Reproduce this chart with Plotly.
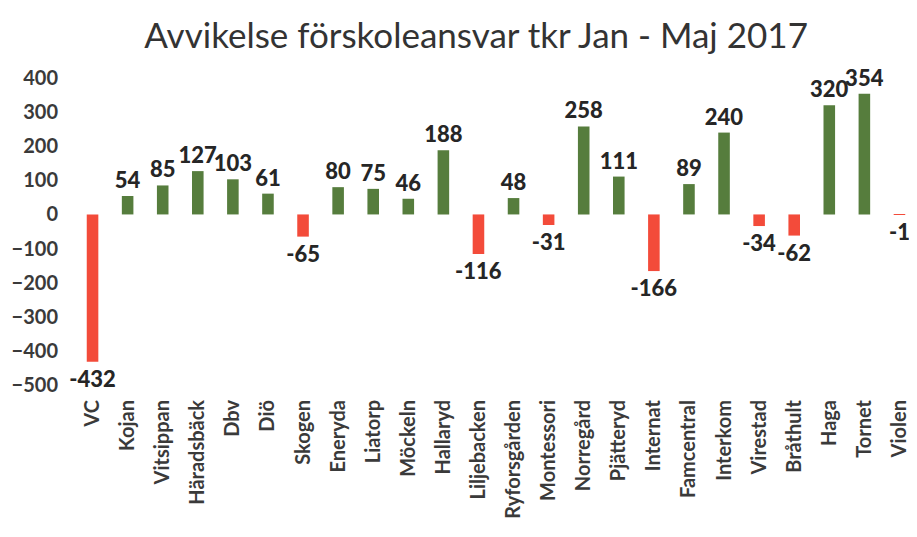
import plotly.graph_objects as go

categories = ["VC", "Kojan", "Vitsippan", "Häradsbäck", "Dbv", "Diö", "Skogen", "Eneryda",
              "Liatorp", "Möckeln", "Hallaryd", "Liljebacken", "Ryforsgården", "Montessori",
              "Norregård", "Pjätteryd", "Internat", "Famcentral", "Interkom", "Virestad",
              "Bråthult", "Haga", "Tornet", "Violen"]
values = [-432, 54, 85, 127, 103, 61, -65, 80, 75, 46, 188, -116, 48, -31,
          258, 111, -166, 89, 240, -34, -62, 320, 354, -1]
y_ticks = [400, 300, 200, 100, 0, -100, -200, -300, -400, -500]

GREEN = "#567d3d"
RED = "#f34b3a"
colors = [GREEN if v >= 0 else RED for v in values]

fig = go.Figure(go.Bar(
    x=categories, y=values,
    marker=dict(color=colors, line=dict(width=0)),
    width=0.33,
    text=[str(v) for v in values],
    textposition="outside",
    constraintext="none",
    textfont=dict(family="Lato", size=22, color="#262626", weight=900),
    cliponaxis=False,
))

fig.update_layout(
    width=909, height=529,
    paper_bgcolor="white", plot_bgcolor="white",
    margin=dict(l=67, r=0, t=70, b=152),
    title=dict(text="Avvikelse förskoleansvar tkr Jan - Maj 2017",
               x=0.515, xanchor="center", y=0.947, yanchor="middle",
               font=dict(family="Lato", size=35, color="#333333", weight="normal")),
    showlegend=False,
)
fig.update_xaxes(
    tickangle=-90,
    tickfont=dict(family="Lato", size=20, color="#3a3a3a", weight="bold"),
    showgrid=False, showline=False, zeroline=False, ticks="",
    ticklabelstandoff=10,
)
fig.update_yaxes(
    range=[-500, 400],
    tickvals=y_ticks,
    tickfont=dict(family="Lato", size=20, color="#3a3a3a", weight="bold"),
    showgrid=False, showline=False, zeroline=False, ticks="",
    ticklabelstandoff=16,
)

fig.write_html("out.html")
